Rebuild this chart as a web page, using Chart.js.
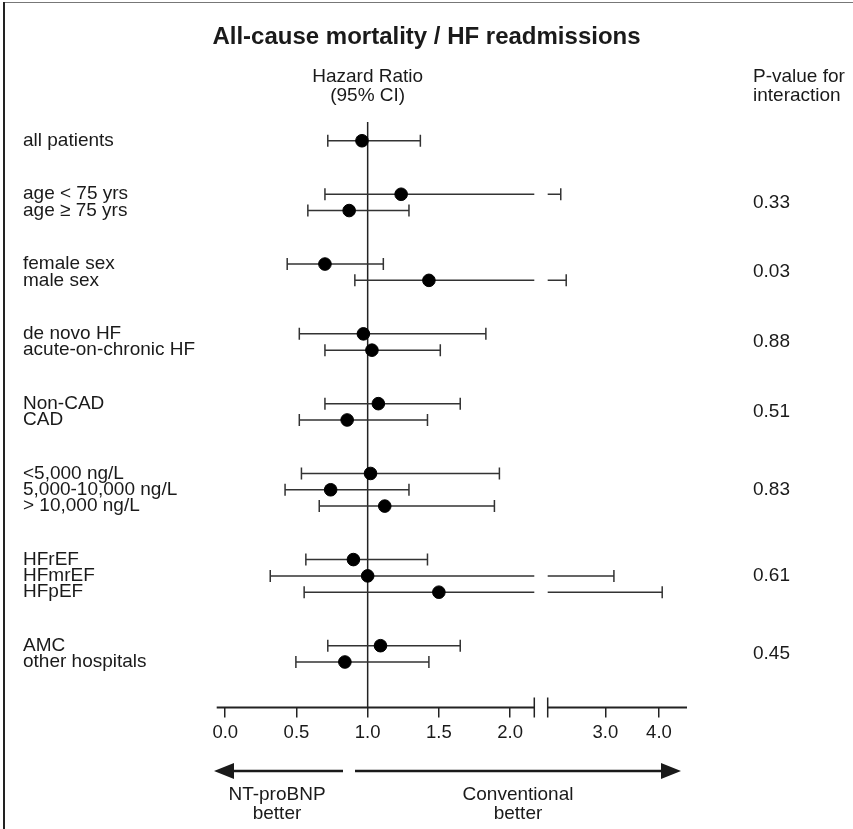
<!DOCTYPE html>
<html>
<head>
<meta charset="utf-8">
<script src="https://cdn.jsdelivr.net/npm/chart.js"></script>
<style>
  html, body { margin: 0; padding: 0; background: #fff; }
  #wrap { position: relative; width: 853px; height: 829px; overflow: hidden; }
  #chart { position: absolute; left: 0; top: 0; }
  .edge-top { position: absolute; left: 3px; top: 2px; width: 850px; height: 1px; background: #777; }
  .edge-left { position: absolute; left: 3px; top: 2px; width: 2px; height: 827px; background: #222; }
</style>
</head>
<body>
<div id="wrap">
  <canvas id="chart" width="853" height="829"></canvas>
  <div class="edge-top"></div>
  <div class="edge-left"></div>
</div>
<script>
// subgroups, hazard ratios and 95% CI
const rowLabels = [
  'all patients',
  'age < 75 yrs', 'age \u2265 75 yrs',
  'female sex', 'male sex',
  'de novo HF', 'acute-on-chronic HF',
  'Non-CAD', 'CAD',
  '<5,000 ng/L', '5,000-10,000 ng/L', '> 10,000 ng/L',
  'HFrEF', 'HFmrEF', 'HFpEF',
  'AMC', 'other hospitals'
];
const rowGroup = [0, 1, 1, 2, 2, 3, 3, 4, 4, 5, 5, 5, 6, 6, 6, 7, 7];
const hazardRatio = [0.96, 1.235, 0.87, 0.70, 1.43, 0.97, 1.03, 1.075, 0.856, 1.02, 0.74, 1.12, 0.90, 1.00, 1.50, 1.09, 0.84];
const ciLower = [0.72, 0.70, 0.58, 0.435, 0.91, 0.52, 0.70, 0.70, 0.52, 0.535, 0.42, 0.66, 0.566, 0.316, 0.554, 0.72, 0.496];
const ciUpper = [1.37, 2.36, 1.29, 1.11, 2.43, 1.83, 1.51, 1.65, 1.42, 1.925, 1.29, 1.89, 1.42, 3.14, 4.07, 1.65, 1.43];
const pInteraction = ['', '0.33', '0.03', '0.88', '0.51', '0.83', '0.61', '0.45'];
const xTicks = [0.0, 0.5, 1.0, 1.5, 2.0, 3.0, 4.0];

// axis break: linear up to 2.17, log part from 2.2 to 4.65
const X_MIN = -0.06, BREAK_LO = 2.17, BREAK_HI = 2.2, X_MAX = 4.65;
const SEG_END = 0.6753, SEG_START = 0.7038;
const GROUP_GAP = 2.28;

const FONT = '"Liberation Sans", Arial, Helvetica, sans-serif';
const INK = '#1a1a1a';
const TXT = '19px ' + FONT;

// row position = index + extra space between groups
const rowPos = rowLabels.map((_, i) => i + rowGroup[i] * GROUP_GAP);

class BrokenScale extends Chart.LinearScale {
  static id = 'broken';
  buildTicks() {
    return xTicks.map(v => ({ value: v }));
  }
  getPixelForValue(v) {
    let d;
    if (v <= BREAK_LO) {
      d = (v - X_MIN) / (BREAK_LO - X_MIN) * SEG_END;
    } else {
      const w = Math.max(v, BREAK_HI);
      d = SEG_START + Math.log(w / BREAK_HI) / Math.log(X_MAX / BREAK_HI) * (1 - SEG_START);
    }
    return this.getPixelForDecimal(d);
  }
}
Chart.register(BrokenScale);

const forestPlugin = {
  id: 'forest',
  beforeDatasetsDraw(chart) {
    const { ctx, chartArea } = chart;
    const xs = chart.scales.x, ys = chart.scales.y;
    ctx.save();
    ctx.lineCap = 'butt';

    // reference line at HR = 1
    const x1 = xs.getPixelForValue(1);
    ctx.strokeStyle = '#222';
    ctx.lineWidth = 1.5;
    ctx.beginPath();
    ctx.moveTo(x1, chartArea.top);
    ctx.lineTo(x1, chartArea.bottom);
    ctx.stroke();

    // confidence intervals
    ctx.strokeStyle = '#333';
    ctx.lineWidth = 1.5;
    rowLabels.forEach((_, i) => {
      const y = ys.getPixelForValue(rowPos[i]);
      const xl = xs.getPixelForValue(ciLower[i]);
      const xh = xs.getPixelForValue(ciUpper[i]);
      ctx.beginPath();
      if (ciUpper[i] > BREAK_LO) {
        ctx.moveTo(xl, y); ctx.lineTo(xs.getPixelForValue(BREAK_LO), y);
        ctx.moveTo(xs.getPixelForValue(BREAK_HI), y); ctx.lineTo(xh, y);
      } else {
        ctx.moveTo(xl, y); ctx.lineTo(xh, y);
      }
      ctx.moveTo(xl, y - 6); ctx.lineTo(xl, y + 6);
      ctx.moveTo(xh, y - 6); ctx.lineTo(xh, y + 6);
      ctx.stroke();
    });

    // broken x axis line
    const yb = chartArea.bottom;
    const a0 = xs.getPixelForValue(X_MIN), a1 = xs.getPixelForValue(BREAK_LO);
    const b0 = xs.getPixelForValue(BREAK_HI), b1 = xs.getPixelForValue(X_MAX);
    ctx.strokeStyle = '#222';
    ctx.lineWidth = 2;
    ctx.beginPath();
    ctx.moveTo(a0, yb); ctx.lineTo(a1, yb);
    ctx.moveTo(b0, yb); ctx.lineTo(b1, yb);
    ctx.stroke();
    ctx.lineWidth = 1.5;
    ctx.beginPath();
    ctx.moveTo(a1, yb - 10); ctx.lineTo(a1, yb + 10);
    ctx.moveTo(b0, yb - 10); ctx.lineTo(b0, yb + 10);
    ctx.stroke();
    ctx.restore();
  },
  afterDraw(chart) {
    const { ctx } = chart;
    const xs = chart.scales.x, ys = chart.scales.y;
    ctx.save();
    ctx.fillStyle = INK;
    ctx.textBaseline = 'middle';

    // title
    ctx.textAlign = 'center';
    ctx.font = 'bold 24px ' + FONT;
    ctx.fillText('All-cause mortality / HF readmissions', 426.5, 37);

    // column headers
    ctx.font = TXT;
    const x1 = xs.getPixelForValue(1);
    ctx.fillText('Hazard Ratio', x1, 77);
    ctx.fillText('(95% CI)', x1, 96);
    ctx.textAlign = 'left';
    ctx.fillText('P-value for', 753, 77);
    ctx.fillText('interaction', 753, 96);

    // p-values centred on each group
    pInteraction.forEach((p, g) => {
      if (!p) return;
      const pos = rowPos.filter((_, i) => rowGroup[i] === g);
      const mid = (pos[0] + pos[pos.length - 1]) / 2;
      ctx.fillText(p, 753, ys.getPixelForValue(mid));
    });

    // direction arrows
    const ya = 771;
    ctx.strokeStyle = INK;
    ctx.lineWidth = 2.5;
    ctx.beginPath();
    ctx.moveTo(343, ya); ctx.lineTo(230, ya);
    ctx.moveTo(355, ya); ctx.lineTo(665, ya);
    ctx.stroke();
    ctx.beginPath();
    ctx.moveTo(214, ya); ctx.lineTo(234, ya - 8); ctx.lineTo(234, ya + 8); ctx.closePath();
    ctx.moveTo(681, ya); ctx.lineTo(661, ya - 8); ctx.lineTo(661, ya + 8); ctx.closePath();
    ctx.fill();

    ctx.textAlign = 'center';
    ctx.fillText('NT-proBNP', 277, 795);
    ctx.fillText('better', 277, 814);
    ctx.fillText('Conventional', 518, 795);
    ctx.fillText('better', 518, 814);
    ctx.restore();
  }
};

new Chart(document.getElementById('chart').getContext('2d'), {
  type: 'scatter',
  data: {
    datasets: [{
      label: 'Hazard Ratio',
      data: rowLabels.map((_, i) => ({ x: hazardRatio[i], y: rowPos[i] })),
      backgroundColor: '#000',
      borderColor: '#000',
      pointRadius: 6.3,
      pointHoverRadius: 6.3
    }]
  },
  options: {
    responsive: false,
    animation: false,
    layout: { padding: { left: 23, right: 166, top: 122, bottom: 0 } },
    plugins: {
      legend: { display: false },
      tooltip: { enabled: false },
      title: { display: false }
    },
    scales: {
      x: {
        type: 'broken',
        min: X_MIN,
        max: X_MAX,
        border: { display: false },
        grid: { drawOnChartArea: false, drawTicks: true, tickLength: 10, color: '#222', lineWidth: 1.5 },
        ticks: {
          color: INK,
          padding: 4,
          maxRotation: 0,
          autoSkip: false,
          font: { family: FONT, size: 18.5 },
          callback: v => Number(v).toFixed(1)
        },
        afterFit: s => { s.height = 121.5; }
      },
      y: {
        type: 'linear',
        reverse: true,
        min: -1.15,
        max: 34.75,
        border: { display: false },
        grid: { display: false },
        afterBuildTicks: s => { s.ticks = rowPos.map(v => ({ value: v })); },
        ticks: {
          color: INK,
          crossAlign: 'far',
          autoSkip: false,
          font: { family: FONT, size: 19 },
          callback: (v, i) => rowLabels[i]
        },
        afterFit: s => { s.width = 193.7; }
      }
    }
  },
  plugins: [forestPlugin]
});
</script>
</body>
</html>
